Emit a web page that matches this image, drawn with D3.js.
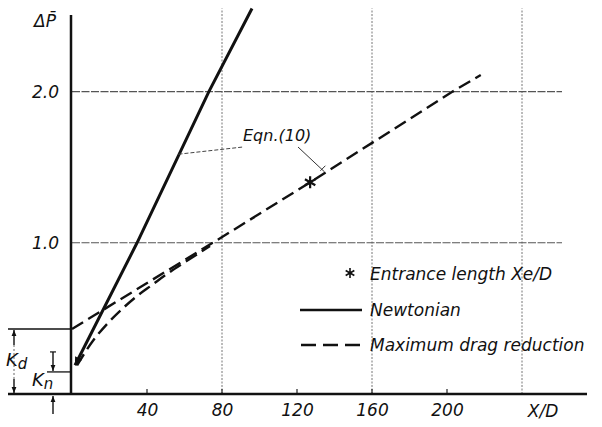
<!DOCTYPE html>
<html>
<head>
<meta charset="utf-8">
<script src="https://cdn.jsdelivr.net/npm/d3@7"></script>
<style>
  body { margin: 0; background: #fff; }
  text { font-family: "DejaVu Sans", sans-serif; font-style: italic; fill: #111; }
</style>
</head>
<body>
<svg id="chart"></svg>
<script>
// Pressure drop vs. distance from entrance

const xTicks = [40, 80, 120, 160, 200];
const yTicks = [1.0, 2.0];
const gridX = [80, 160, 240];

// Newtonian (solid)
const newtonX = [1.6, 34.7, 73, 96];
const newtonY = [0.19, 1.0, 2.0, 2.55];

// maximum drag reduction, fully developed asymptote (dashed)
const asymX = [0, 79, 127, 203, 218];
const asymY = [0.43, 1.03, 1.40, 2.0, 2.11];

// maximum drag reduction, entrance region (dashed, curved)
const entryX = [2.7, 10.7, 18.7, 26.7, 34.7, 42.7, 50.7, 58.7, 66.7, 73.6];
const entryY = [0.19, 0.344, 0.463, 0.562, 0.648, 0.721, 0.794, 0.86, 0.923, 0.979];

// entrance length point
const xeX = [127];
const xeY = [1.40];

const Kd = 0.43;
const Kn = 0.146;

(function() {
	const svgWidth = 602;
	const svgHeight = 427;

	const x = d3.scaleLinear().domain([0, 240]).range([72, 522]);
	const y = d3.scaleLinear().domain([0, 2.5]).range([394, 16]);

	const svg = d3.select('#chart')
		.attr('width', svgWidth)
		.attr('height', svgHeight);

	const defs = svg.append('defs');
	defs.append('marker')
		.attr('id', 'arr')
		.attr('viewBox', '0 0 10 10')
		.attr('refX', 10).attr('refY', 5)
		.attr('markerWidth', 6).attr('markerHeight', 6)
		.attr('markerUnits', 'userSpaceOnUse')
		.attr('orient', 'auto-start-reverse')
		.append('path')
		.attr('d', 'M0,1 L10,5 L0,9 Z')
		.attr('fill', '#111');
	defs.append('marker')
		.attr('id', 'arrBig')
		.attr('viewBox', '0 0 10 10')
		.attr('refX', 10).attr('refY', 5)
		.attr('markerWidth', 10).attr('markerHeight', 8)
		.attr('markerUnits', 'userSpaceOnUse')
		.attr('orient', 'auto-start-reverse')
		.append('path')
		.attr('d', 'M0,0 L10,5 L0,10 Z')
		.attr('fill', '#111');

	// asterisk path, r = arm length
	const asterisk = r => {
		let d = '';
		for (let k = 0; k < 3; k++) {
			const a = Math.PI / 2 + k * Math.PI / 3;
			const dx = r * Math.cos(a), dy = r * Math.sin(a);
			d += `M${-dx},${-dy}L${dx},${dy}`;
		}
		return d;
	};

	// grid
	svg.append('g').selectAll('line')
		.data(gridX)
		.join('line')
		.attr('x1', d => x(d)).attr('x2', d => x(d))
		.attr('y1', y(0)).attr('y2', y(2.55))
		.attr('stroke', '#777').attr('stroke-width', 1)
		.attr('stroke-dasharray', '2,1.5');

	svg.append('g').selectAll('line')
		.data(yTicks)
		.join('line')
		.attr('x1', x(0)).attr('x2', 562)
		.attr('y1', d => y(d)).attr('y2', d => y(d))
		.attr('stroke', '#555').attr('stroke-width', 1.1)
		.attr('stroke-dasharray', '8,1.5');

	// small ticks on x-axis
	svg.append('g').selectAll('line')
		.data(xTicks)
		.join('line')
		.attr('x1', d => x(d)).attr('x2', d => x(d))
		.attr('y1', y(0)).attr('y2', y(0) - 5)
		.attr('stroke', '#222').attr('stroke-width', 1.2);

	// axes
	svg.append('g')
		.attr('transform', `translate(0, ${y(0)})`)
		.call(d3.axisBottom(x).tickValues(xTicks).tickSize(0).tickPadding(10))
		.call(g => g.select('.domain').remove())
		.call(g => g.selectAll('text')
			.style('font-family', '"DejaVu Sans", sans-serif')
			.style('font-style', 'italic')
			.attr('font-size', 17).attr('fill', '#111'));

	svg.append('g')
		.attr('transform', `translate(${x(0)}, 0)`)
		.call(d3.axisLeft(y).tickValues(yTicks).tickFormat(d3.format('.1f')).tickSize(0).tickPadding(13))
		.call(g => g.select('.domain').remove())
		.call(g => g.selectAll('text')
			.style('font-family', '"DejaVu Sans", sans-serif')
			.style('font-style', 'italic')
			.attr('font-size', 17).attr('fill', '#111'));

	svg.append('line')
		.attr('x1', 8).attr('x2', 587)
		.attr('y1', y(0)).attr('y2', y(0))
		.attr('stroke', '#111').attr('stroke-width', 2.5);
	svg.append('line')
		.attr('x1', x(0) - 1).attr('x2', x(0) - 1)
		.attr('y1', y(0)).attr('y2', 15)
		.attr('stroke', '#111').attr('stroke-width', 2.5);

	svg.append('text').attr('x', 543).attr('y', 417)
		.attr('text-anchor', 'middle').attr('font-size', 17).text('X/D');
	const yl = svg.append('text').attr('x', 34).attr('y', 27).attr('font-size', 17);
	yl.append('tspan').text('\u0394');
	yl.append('tspan').text('P\u0304');

	// curves
	const dashed = '13,6';

	svg.append('path')
		.datum(asymX.map((v, i) => [v, asymY[i]]))
		.attr('d', d3.line().x(d => x(d[0])).y(d => y(d[1])))
		.attr('fill', 'none').attr('stroke', '#111').attr('stroke-width', 2.4)
		.attr('stroke-dasharray', dashed);

	svg.append('path')
		.datum(entryX.map((v, i) => [v, entryY[i]]))
		.attr('d', d3.line().curve(d3.curveCatmullRom).x(d => x(d[0])).y(d => y(d[1])))
		.attr('fill', 'none').attr('stroke', '#111').attr('stroke-width', 2.4)
		.attr('stroke-dasharray', dashed);

	svg.append('path')
		.datum(newtonX.map((v, i) => [v, newtonY[i]]))
		.attr('d', d3.line().x(d => x(d[0])).y(d => y(d[1])))
		.attr('fill', 'none').attr('stroke', '#111').attr('stroke-width', 3)
		.attr('marker-start', 'url(#arrBig)');

	// entrance length star
	svg.append('g').selectAll('path')
		.data(xeX.map((v, i) => [v, xeY[i]]))
		.join('path')
		.attr('transform', d => `translate(${x(d[0])},${y(d[1])})`)
		.attr('d', asterisk(6))
		.attr('stroke', '#111').attr('stroke-width', 2.2);

	// Eqn.(10) label with leaders
	svg.append('text').attr('x', 243).attr('y', 141)
		.attr('font-size', 16).text('Eqn.(10)');
	svg.append('line')
		.attr('x1', x(56.8)).attr('y1', y(1.586))
		.attr('x2', 243).attr('y2', 147)
		.attr('stroke', '#444').attr('stroke-width', 1)
		.attr('stroke-dasharray', '4,2');
	svg.append('line')
		.attr('x1', 298).attr('y1', 147)
		.attr('x2', x(134.6)).attr('y2', y(1.47))
		.attr('stroke', '#333').attr('stroke-width', 1);
	svg.append('line')
		.attr('x1', x(134.6) - 4).attr('y1', y(1.47) - 1)
		.attr('x2', x(134.6) + 1).attr('y2', y(1.47) - 6)
		.attr('stroke', '#333').attr('stroke-width', 1);

	// legend
	svg.append('path')
		.attr('transform', 'translate(350,273)')
		.attr('d', asterisk(5))
		.attr('stroke', '#111').attr('stroke-width', 1.6);
	svg.append('text').attr('x', 370).attr('y', 280)
		.attr('font-size', 17).text('Entrance length Xe/D');
	svg.append('line')
		.attr('x1', 300).attr('x2', 362).attr('y1', 310).attr('y2', 310)
		.attr('stroke', '#111').attr('stroke-width', 2.6);
	svg.append('text').attr('x', 370).attr('y', 316)
		.attr('font-size', 17).text('Newtonian');
	svg.append('line')
		.attr('x1', 301).attr('x2', 362).attr('y1', 345).attr('y2', 345)
		.attr('stroke', '#111').attr('stroke-width', 2.4)
		.attr('stroke-dasharray', '15,7');
	svg.append('text').attr('x', 370).attr('y', 351)
		.attr('font-size', 17).text('Maximum drag reduction');

	// Kd / Kn
	svg.append('line')
		.attr('x1', 8).attr('x2', x(0)).attr('y1', y(Kd)).attr('y2', y(Kd))
		.attr('stroke', '#111').attr('stroke-width', 1.3);
	svg.append('line')
		.attr('x1', 47).attr('x2', x(0)).attr('y1', y(Kn)).attr('y2', y(Kn))
		.attr('stroke', '#111').attr('stroke-width', 1.3);

	const arrows = [
		[14, y(Kd) + 16, 14, y(Kd) + 1],
		[14, y(0) - 15, 14, y(0) - 1],
		[53, y(Kn) - 20, 53, y(Kn) - 1],
		[53, y(0) + 20, 53, y(0) + 2]
	];
	svg.append('g').selectAll('line')
		.data(arrows)
		.join('line')
		.attr('x1', d => d[0]).attr('y1', d => d[1])
		.attr('x2', d => d[2]).attr('y2', d => d[3])
		.attr('stroke', '#111').attr('stroke-width', 1.4)
		.attr('marker-end', 'url(#arr)');
	svg.append('line')
		.attr('x1', 14).attr('x2', 14).attr('y1', y(Kd) + 16).attr('y2', y(0) - 15)
		.attr('stroke', '#666').attr('stroke-width', 1).attr('stroke-dasharray', '2,2');
	svg.append('line')
		.attr('x1', 50).attr('x2', 56).attr('y1', y(Kn) - 20).attr('y2', y(Kn) - 20)
		.attr('stroke', '#111').attr('stroke-width', 1.2);

	const kd = svg.append('text').attr('x', 6).attr('y', 366).attr('font-size', 18);
	kd.append('tspan').text('K');
	kd.append('tspan').attr('font-size', 15).attr('dy', 3).text('d');
	const kn = svg.append('text').attr('x', 32).attr('y', 386).attr('font-size', 18);
	kn.append('tspan').text('K');
	kn.append('tspan').attr('font-size', 15).attr('dy', 3).text('n');
}());
</script>
</body>
</html>
